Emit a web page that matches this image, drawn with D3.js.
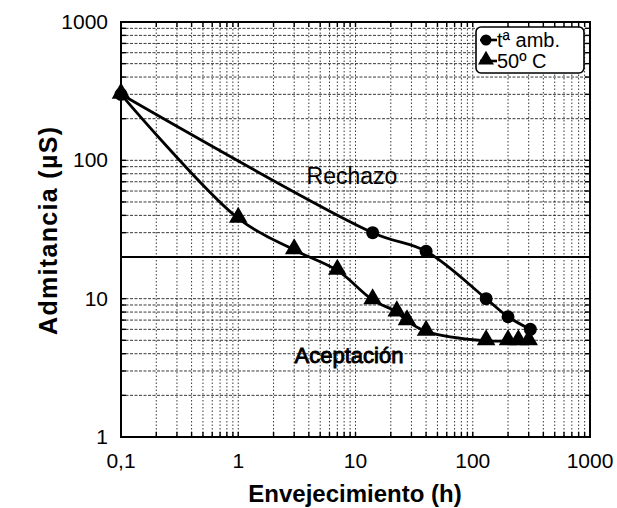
<!DOCTYPE html>
<html>
<head>
<meta charset="utf-8">
<script src="https://cdn.jsdelivr.net/npm/d3@7"></script>
<style>
  body { margin: 0; background: #fff; }
  svg { font-family: "Liberation Sans", Arial, sans-serif; }
</style>
</head>
<body>
<svg id="chart" width="617" height="508"></svg>
<script>
// data
var hoursAmb = [0.1, 14, 40, 130, 200, 310];
var admAmb = [300, 30, 22, 10, 7.4, 6];
var hours50 = [0.1, 1, 3, 7, 14, 22.5, 27.5, 40, 130, 200, 245, 300];
var adm50 = [300, 38, 22.5, 16, 9.8, 8, 6.9, 5.8, 4.95, 4.95, 4.95, 4.95];
var limit = 20;
var xTicks = [0.1, 1, 10, 100, 1000];
var xTickLabels = ["0,1", "1", "10", "100", "1000"];
var yTicks = [1, 10, 100, 1000];
var yTickLabels = ["1", "10", "100", "1000"];
var legendLabels = ["tª amb.", "50º C"];

var svg = d3.select("#chart");
var margin = {left: 121, top: 22, right: 27, bottom: 71};
var width = 617 - margin.left - margin.right,
    height = 508 - margin.top - margin.bottom;

var x = d3.scaleLog().domain([0.1, 1000]).range([0, width]);
var y = d3.scaleLog().domain([1, 1000]).range([height, 0]);

var g = svg.append("g").attr("transform", "translate(" + margin.left + "," + margin.top + ")");

// all minor positions for the grid
function minorVals(lo, hi) {
  var out = [];
  for (var p = lo; p < hi; p *= 10) {
    for (var k = 1; k <= 9; k++) out.push(p * k);
  }
  out.push(hi);
  return out;
}
var xGrid = minorVals(0.1, 1000);
var yGrid = minorVals(1, 1000);

g.append("g").selectAll("line")
  .data(xGrid.filter(function(d) { return d > 0.1 && d < 1000; }))
  .enter().append("line")
    .attr("x1", function(d) { return x(d); })
    .attr("x2", function(d) { return x(d); })
    .attr("y1", 0).attr("y2", height)
    .attr("stroke", "#222").attr("stroke-width", 0.9)
    .attr("stroke-dasharray", "1.5,2");

g.append("g").selectAll("line")
  .data(yGrid.filter(function(d) { return d > 1 && d < 1000; }))
  .enter().append("line")
    .attr("y1", function(d) { return y(d); })
    .attr("y2", function(d) { return y(d); })
    .attr("x1", 0).attr("x2", width)
    .attr("stroke", "#222").attr("stroke-width", 0.9)
    .attr("stroke-dasharray", "3,1.5");

// small inner ticks on all four sides
var tickLen = 5;
var inner = g.append("g").attr("stroke", "#000").attr("stroke-width", 1.4);
xGrid.forEach(function(d) {
  inner.append("line").attr("x1", x(d)).attr("x2", x(d)).attr("y1", height).attr("y2", height - tickLen);
  inner.append("line").attr("x1", x(d)).attr("x2", x(d)).attr("y1", 0).attr("y2", tickLen);
});
yGrid.forEach(function(d) {
  inner.append("line").attr("y1", y(d)).attr("y2", y(d)).attr("x1", 0).attr("x2", tickLen);
  inner.append("line").attr("y1", y(d)).attr("y2", y(d)).attr("x1", width).attr("x2", width - tickLen);
});

// frame
g.append("rect").attr("width", width).attr("height", height)
  .attr("fill", "none").attr("stroke", "#000").attr("stroke-width", 2);

// tick labels
g.append("g").selectAll("text")
  .data(xTicks).enter().append("text")
    .attr("x", function(d) { return x(d); })
    .attr("y", height + 31)
    .attr("text-anchor", "middle")
    .attr("font-size", 21)
    .text(function(d, i) { return xTickLabels[i]; });

g.append("g").selectAll("text")
  .data(yTicks).enter().append("text")
    .attr("x", -13)
    .attr("y", function(d) { return y(d) + 7; })
    .attr("text-anchor", "end")
    .attr("font-size", 21)
    .text(function(d, i) { return yTickLabels[i]; });

// acceptance limit
g.append("line")
  .attr("x1", 0).attr("x2", width)
  .attr("y1", y(limit)).attr("y2", y(limit))
  .attr("stroke", "#000").attr("stroke-width", 1.8);

// series
var line = d3.line()
  .x(function(d) { return x(d[0]); })
  .y(function(d) { return y(d[1]); })
  .curve(d3.curveCatmullRom.alpha(0.5));

var ambPts = d3.zip(hoursAmb, admAmb);
var p50Pts = d3.zip(hours50, adm50);

g.append("path").datum(ambPts).attr("d", line)
  .attr("fill", "none").attr("stroke", "#000").attr("stroke-width", 2.8);
g.append("path").datum(p50Pts).attr("d", line)
  .attr("fill", "none").attr("stroke", "#000").attr("stroke-width", 2.8);

var tri = d3.symbol().type(d3.symbolTriangle).size(150);

g.append("g").selectAll("path")
  .data(p50Pts).enter().append("path")
    .attr("d", tri)
    .attr("transform", function(d) { return "translate(" + x(d[0]) + "," + (y(d[1]) - 1) + ")"; })
    .attr("fill", "#000");

g.append("g").selectAll("circle")
  .data(ambPts).enter().append("circle")
    .attr("cx", function(d) { return x(d[0]); })
    .attr("cy", function(d) { return y(d[1]); })
    .attr("r", 6.5)
    .attr("fill", "#000");

// region labels
g.append("text").attr("x", 352 - margin.left).attr("y", 184 - margin.top)
  .attr("text-anchor", "middle")
  .attr("font-size", 23).text("Rechazo");
g.append("text").attr("x", 349 - margin.left).attr("y", 363 - margin.top)
  .attr("text-anchor", "middle")
  .attr("font-size", 22)
  .attr("stroke", "#000").attr("stroke-width", 0.9)
  .text("Aceptación");

// legend
var leg = svg.append("g").attr("transform", "translate(476,27)");
leg.append("rect").attr("width", 108).attr("height", 46).attr("rx", 5)
  .attr("fill", "#fff").attr("stroke", "#000").attr("stroke-width", 1.6);
legendLabels.forEach(function(lbl, i) {
  var cy = 13 + i * 21;
  leg.append("line").attr("x1", 4).attr("x2", 21).attr("y1", cy).attr("y2", cy)
    .attr("stroke", "#000").attr("stroke-width", 2.6);
  if (i === 0) {
    leg.append("circle").attr("cx", 10).attr("cy", cy).attr("r", 5.5).attr("fill", "#000");
  } else {
    leg.append("path").attr("d", d3.symbol().type(d3.symbolTriangle).size(110))
      .attr("transform", "translate(10," + (cy - 1) + ")").attr("fill", "#000");
  }
  leg.append("text").attr("x", 21).attr("y", cy + 7).attr("font-size", 20).text(lbl);
});

// axis titles
svg.append("text")
  .attr("x", 355)
  .attr("y", 502)
  .attr("text-anchor", "middle")
  .attr("font-size", 24).attr("font-weight", "bold")
  .text("Envejecimiento (h)");

svg.append("text")
  .attr("transform", "translate(57," + 231 + ") rotate(-90)")
  .attr("text-anchor", "middle")
  .attr("font-size", 25).attr("font-weight", "bold")
  .attr("textLength", 208).attr("lengthAdjust", "spacing")
  .text("Admitancia  (µS)");
</script>
</body>
</html>
